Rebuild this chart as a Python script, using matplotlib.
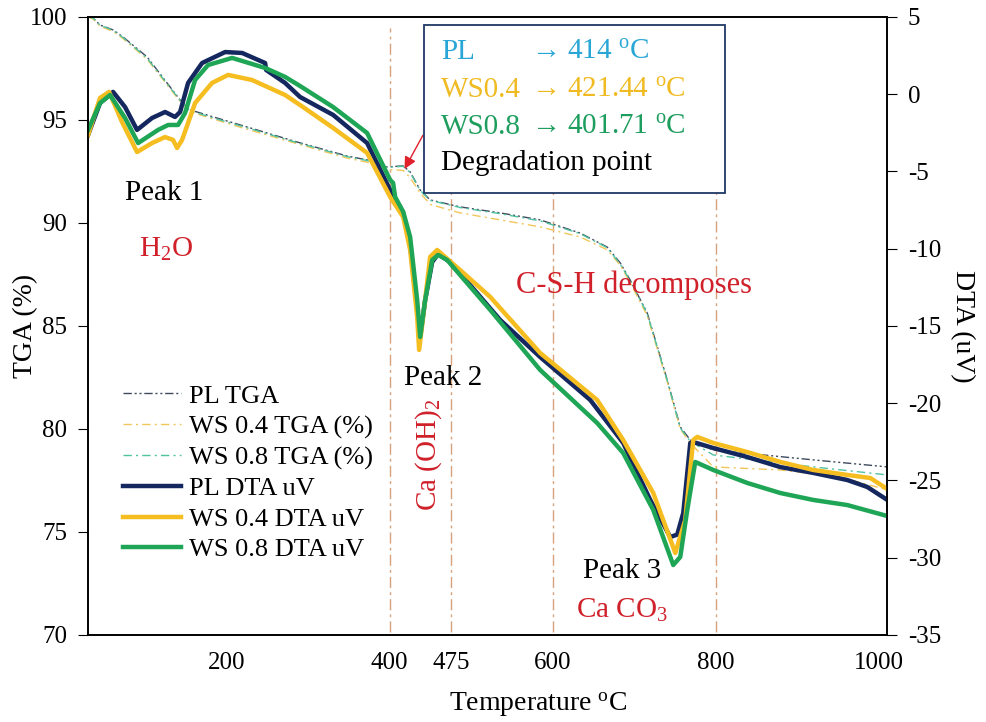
import matplotlib
matplotlib.use("Agg")
import matplotlib.pyplot as plt
from matplotlib.patches import Rectangle

# ==========================
# FONTS
# ==========================
plt.rcParams["font.family"] = ["Liberation Serif", "DejaVu Serif"]
plt.rcParams["mathtext.fontset"] = "custom"
plt.rcParams["mathtext.rm"] = "Liberation Serif"
plt.rcParams["mathtext.default"] = "regular"
plt.rcParams["axes.unicode_minus"] = False

# ==========================
# DATA
# ==========================
# DTA curves (uV)
pl_dta_t = [30, 44.7, 60.7, 75.4, 90.1, 108.5, 124.5, 136.7, 142.9, 152.7, 169.9, 198.1,
            219, 247.2, 248.4, 271.7, 290.1, 330.6, 372.3, 400.6, 416.5, 425.1, 437.4,
            443.5, 452.1, 459.5, 474.2, 498.7, 535.5, 584.6, 646, 686.4, 719.6, 744.1,
            752.7, 760.1, 768.7, 772.3, 796.9, 838.6, 879.1, 919.6, 961.3, 985.8, 1010.4]
pl_dta = [-2.64, -0.57, 0.15, -0.83, -2.31, -1.54, -1.15, -1.47, -1.15, 0.73, 2.02, 2.73,
          2.67, 2.02, 1.57, 0.73, -0.18, -1.34, -3.16, -6.20, -7.69, -9.76, -15.71,
          -13.32, -10.86, -10.34, -10.86, -12.35, -14.61, -17.01, -19.79, -22.57, -26.26, -28.66,
          -28.50, -27.10, -22.57, -22.51, -22.90, -23.48, -24.13, -24.51, -24.97, -25.42, -26.26]

ws04_dta_t = [30, 44.7, 55.8, 71.7, 90.1, 108.5, 124.5, 134.3, 139.2, 145.3, 161.3, 182.1,
              201.8, 231.2, 271.7, 290.1, 330.6, 372.3, 400.6, 416.5, 425.1, 433.7, 436.1,
              441.0, 449.6, 458.2, 486.4, 523.3, 584.6, 654.5, 686.4, 723.3, 750.3, 762.5,
              772.3, 777.2, 796.9, 838.6, 879.1, 919.6, 961.3, 989.5, 1010.4]
ws04_dta = [-2.64, -0.24, 0.15, -1.80, -3.74, -3.16, -2.77, -2.96, -3.48, -2.96, -0.57, 0.73,
            1.25, 0.92, -0.05, -0.70, -2.18, -3.80, -6.65, -7.94, -10.08, -14.42, -16.55,
            -14.42, -10.53, -10.08, -11.38, -13.12, -16.75, -19.79, -22.38, -25.81, -29.69, -27.56,
            -22.38, -22.18, -22.57, -23.16, -23.80, -24.32, -24.64, -24.84, -25.55]

ws08_dta_t = [30, 44.7, 57, 75.4, 91.4, 115.9, 128.2, 140.4, 149, 161.3, 177.2, 206.7,
              247.2, 271.7, 290.1, 330.6, 372.3, 400.6, 404.2, 406.7, 416.5, 425.1, 433.7,
              437.4, 443.5, 452.1, 459.5, 470.5, 523.3, 584.6, 654.5, 686.4, 723.3, 747.8,
              756.4, 765, 774.8, 796.9, 838.6, 879.1, 919.6, 961.3, 1010.4]
ws08_dta = [-2.31, -0.57, -0.05, -1.54, -3.16, -2.31, -1.99, -1.99, -1.21, 0.92, 1.89, 2.35,
            1.70, 1.12, 0.53, -0.83, -2.51, -5.55, -5.74, -6.65, -7.60, -9.24, -13.32,
            -15.71, -13.32, -10.73, -10.40, -10.73, -13.96, -17.85, -21.28, -23.22, -26.91, -30.47,
            -29.95, -26.91, -23.80, -24.32, -25.16, -25.81, -26.26, -26.59, -27.30]

# TGA curves (%)
pl_tga_t = [30, 36.1, 44.7, 60.7, 72.9, 102.4, 142.9, 155.2, 183.4, 225.1, 286.4, 347.8,
            372.3, 396.9, 416.5, 425.1, 437.4, 449.6, 486.4, 535.5, 584.6, 633.7, 666.8,
            682.8, 695, 715.9, 740.4, 756.4, 768.7, 796.9, 858.3, 919.6, 1010.4]
pl_tga = [100, 99.95, 99.61, 99.37, 99.03, 98.06, 95.97, 95.49, 95.15, 94.66, 93.93, 93.25,
          93.06, 92.72, 92.77, 92.48, 91.60, 91.12, 90.78, 90.49, 90.15, 89.51, 88.83,
          88.06, 87.23, 85.63, 82.38, 80.10, 79.47, 78.98, 78.74, 78.50, 78.16]

ws04_tga_t = [30, 36.1, 44.7, 60.7, 72.9, 102.4, 142.9, 155.2, 183.4, 225.1, 286.4, 347.8,
              372.3, 396.9, 416.5, 425.1, 437.4, 449.6, 486.4, 535.5, 584.6, 633.7, 666.8,
              682.8, 695, 715.9, 740.4, 756.4, 768.7, 796.9, 879.1, 952.7, 1010.4]
ws04_tga = [100, 99.9, 99.55, 99.3, 98.95, 97.95, 95.9, 95.4, 95.05, 94.55, 93.85, 93.15,
            92.95, 92.6, 92.55, 92.2, 91.46, 90.9, 90.49, 90.15, 89.81, 89.32, 88.7,
            87.95, 87.1, 85.5, 82.3, 80.0, 79.32, 78.16, 78.01, 77.67, 77.04]

ws08_tga_t = [30, 36.1, 44.7, 60.7, 72.9, 102.4, 142.9, 155.2, 183.4, 225.1, 286.4, 347.8,
              372.3, 396.9, 416.5, 425.1, 437.4, 449.6, 486.4, 535.5, 584.6, 633.7, 666.8,
              682.8, 695, 715.9, 740.4, 756.4, 768.7, 796.9, 919.6, 1010.4]
ws08_tga = [100, 99.95, 99.6, 99.35, 99.0, 98.0, 95.95, 95.45, 95.1, 94.62, 93.9, 93.22,
            93.03, 92.7, 92.75, 92.45, 91.58, 91.1, 90.75, 90.45, 90.1, 89.48, 88.8,
            88.0, 87.2, 85.6, 82.35, 80.05, 79.4, 78.74, 78.16, 77.77]

# vertical reference lines and tick labels
ref_temps = [400, 475, 600, 800]
x_ticks = [200, 400, 475, 600, 800, 1000]

# ==========================
# COLORS
# ==========================
c_pl = "#14275e"
c_ws04 = "#f5bd1f"
c_ws08 = "#1ea555"
c_pl_tga = "#3f4a5e"
c_ws04_tga = "#f2c75a"
c_ws08_tga = "#4fc3a0"
c_ref = "#d8a27c"
c_red = "#d0202a"

# ==========================
# PLOT
# ==========================
fig = plt.figure(figsize=(9.86, 7.22), dpi=100)
ax = fig.add_axes([0.0893, 0.1205, 0.8103, 0.856])
ax2 = ax.twinx()

for t in ref_temps:
    ax.plot([t, t], [70.15, 99.45], color=c_ref, lw=1.0, dashes=(8, 3, 2, 3))

l1, = ax.plot(pl_tga_t, pl_tga, color=c_pl_tga, lw=1.0, dashes=(6, 2, 1.5, 2, 1.5, 2), label="PL TGA")
l2, = ax.plot(ws04_tga_t, ws04_tga, color=c_ws04_tga, lw=1.0, dashes=(6, 3, 1.5, 3), label="WS 0.4 TGA (%)")
l3, = ax.plot(ws08_tga_t, ws08_tga, color=c_ws08_tga, lw=1.0, dashes=(6, 3, 1.5, 3), label="WS 0.8 TGA (%)")

l4, = ax2.plot(pl_dta_t, pl_dta, color=c_pl, lw=3.2, label="PL DTA uV", solid_joinstyle="round")
l5, = ax2.plot(ws04_dta_t, ws04_dta, color=c_ws04, lw=3.2, label="WS 0.4 DTA uV", solid_joinstyle="round")
l6, = ax2.plot(ws08_dta_t, ws08_dta, color=c_ws08, lw=3.2, label="WS 0.8 DTA uV", solid_joinstyle="round")

# ==========================
# AXES
# ==========================
ax.set_xlim(30, 1010)
ax.set_ylim(70, 100)
ax2.set_ylim(-35, 5)
ax.set_yticks(range(70, 101, 5))
ax2.set_yticks(range(-35, 6, 5))
ax.set_xticks(x_ticks)
ax.set_xticklabels([str(v) for v in x_ticks])

ax.tick_params(axis="x", length=0, labelsize=18, pad=12)
ax.tick_params(axis="y", direction="out", length=7, labelsize=18, pad=8)
ax2.tick_params(axis="y", direction="out", length=7, labelsize=18, pad=8)
for a in (ax, ax2):
    for s in a.spines.values():
        s.set_linewidth(1.2)

ax.set_ylabel("TGA (%)", fontsize=20)
ax.yaxis.set_label_coords(-0.062, 0.5)
ax2.set_ylabel("DTA (uV)", fontsize=20, rotation=270, labelpad=24)
ax.set_xlabel("Temperature $^{o}$C", fontsize=20)
ax.xaxis.set_label_coords(0.563, -0.09)

# ==========================
# ANNOTATIONS
# ==========================
ax.text(123.3, 91.46, "Peak 1", fontsize=21, ha="center", va="center")
ax.text(125.7, 88.7, "H$_2$O", fontsize=21, ha="center", va="center", color=c_red)
ax.text(465.6, 82.48, "Peak 2", fontsize=21, ha="center", va="center")
ax.text(448.4, 78.74, "Ca (OH)$_2$", fontsize=21, ha="center", va="center", color=c_red, rotation=90)
ax.text(700, 86.99, "C-S-H decomposes", fontsize=22, ha="center", va="center", color=c_red)
ax.text(685.2, 73.1, "Peak 3", fontsize=21, ha="center", va="center")
ax.text(685.2, 71.2, "Ca CO$_3$", fontsize=21, ha="center", va="center", color=c_red)

# info box
box = Rectangle((0.4205, 0.715), 0.3767, 0.272, transform=ax2.transAxes,
                facecolor="white", edgecolor="#1f3864", lw=1.3, zorder=10)
ax2.add_patch(box)
box_rows = [("PL", "\u2192 414 $^{o}$C", "#2aa6d6", 0.943),
            ("WS0.4", "\u2192 421.44 $^{o}$C", "#f0bb22", 0.882),
            ("WS0.8", "\u2192 401.71 $^{o}$C", "#1e9e5e", 0.822)]
for name, val, col, yy in box_rows:
    ax2.text(0.4418, yy, name, color=col, fontsize=21, va="center", transform=ax2.transAxes, zorder=11)
    ax2.text(0.5544, yy, val, color=col, fontsize=21, va="center", transform=ax2.transAxes, zorder=11)
ax2.text(0.4418, 0.764, "Degradation point", fontsize=21, va="center", transform=ax2.transAxes, zorder=11)

ax.annotate("", xy=(416.5, 92.5), xytext=(442.3, 94.37),
            arrowprops=dict(arrowstyle="-|>", color="#e0202a", lw=1.0, mutation_scale=18))

# ==========================
# LEGEND
# ==========================
fig.legend([l1, l2, l3, l4, l5, l6], [h.get_label() for h in (l1, l2, l3, l4, l5, l6)],
           loc="upper left", bbox_to_anchor=(0.125, 0.468), frameon=False, fontsize=19,
           handlelength=2.2, handletextpad=0.3, labelspacing=0.27, borderpad=0, borderaxespad=0)

plt.savefig("out.png", dpi=100)
